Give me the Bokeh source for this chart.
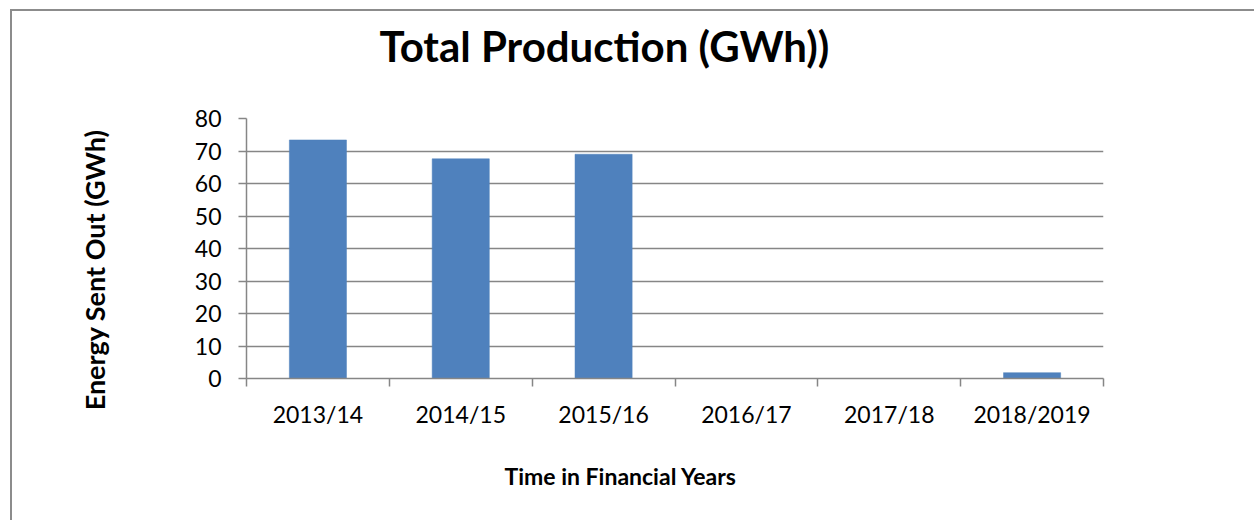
from bokeh.plotting import figure
from bokeh.models import Range1d, FixedTicker, Title
from bokeh.embed import file_html
from bokeh.resources import INLINE

# ---- data ----
categories = ["2013/14", "2014/15", "2015/16", "2016/17", "2017/18", "2018/2019"]
production_gwh = [73.4, 67.6, 69.0, 0.0, 0.0, 1.8]
y_ticks = [0, 10, 20, 30, 40, 50, 60, 70, 80]

title_text = "Total Production (GWh))"
y_title = "Energy Sent Out (GWh)"
x_title = "Time in Financial Years"

FONT = "Lato"
GRAY = "#868686"
BLUE = "#4F81BD"

n = len(categories)
centers = [i + 0.5 for i in range(n)]
boundaries = list(range(n + 1))
y_min, y_max = y_ticks[0], y_ticks[-1]

p = figure(width=1244, height=511, output_backend="svg", toolbar_location=None,
           x_range=Range1d(0, n), y_range=Range1d(y_min, y_max),
           min_border_left=234, min_border_right=153,
           min_border_top=107, min_border_bottom=144)
p.margin = (9, 0, 0, 10)
p.styles = {"border-left": "2px solid #8c8c8c", "border-top": "2px solid #8c8c8c"}
p.outline_line_color = None
p.background_fill_color = "white"
p.border_fill_color = "white"

p.vbar(x=centers, top=production_gwh, width=0.4, bottom=0,
       fill_color=BLUE, line_color=BLUE, line_width=0.5)

# grid
p.xgrid.visible = False
p.ygrid.ticker = FixedTicker(ticks=y_ticks)
p.ygrid.grid_line_color = GRAY
p.ygrid.grid_line_width = 1.5

# x axis (ticks between categories, labels at centres)
xa = p.xaxis[0]
xa.ticker = FixedTicker(ticks=centers, minor_ticks=boundaries)
xa.major_label_overrides = {c: lab for c, lab in zip(centers, categories)}
xa.major_tick_line_color = None
xa.minor_tick_line_color = GRAY
xa.minor_tick_line_width = 1.5
xa.minor_tick_out = 8
xa.minor_tick_in = 0
xa.axis_line_color = GRAY
xa.axis_line_width = 1.5
xa.major_label_standoff = 13
xa.major_label_text_font = FONT
xa.major_label_text_font_size = "23px"
xa.major_label_text_color = "black"

# y axis
ya = p.yaxis[0]
ya.ticker = FixedTicker(ticks=y_ticks)
ya.major_tick_line_color = GRAY
ya.major_tick_line_width = 1.5
ya.major_tick_out = 8
ya.major_tick_in = 0
ya.minor_tick_line_color = None
ya.axis_line_color = GRAY
ya.axis_line_width = 1.5
ya.major_label_standoff = 17
ya.major_label_text_font = FONT
ya.major_label_text_font_size = "23px"
ya.major_label_text_color = "black"


def spacer(gap):
    return Title(text=" ", text_font_size="1px", standoff=gap)


# chart title (spacer first so the title sits further from the frame)
p.add_layout(spacer(40), "above")
p.add_layout(Title(text=title_text, align="left", offset=133, standoff=10,
                   text_font=FONT, text_font_size="42px", text_font_style="bold",
                   text_color="black"), "above")

# x axis title
p.add_layout(spacer(26), "below")
p.add_layout(Title(text=x_title, align="left", offset=258, standoff=0,
                   text_font=FONT, text_font_size="23px", text_font_style="bold",
                   text_color="black"), "below")

# y axis title
p.add_layout(spacer(78), "left")
p.add_layout(Title(text=y_title, align="right", offset=11, standoff=0,
                   text_font=FONT, text_font_size="27px", text_font_style="bold",
                   text_color="black"), "left")

open("out.html", "w").write(file_html(p, INLINE))
